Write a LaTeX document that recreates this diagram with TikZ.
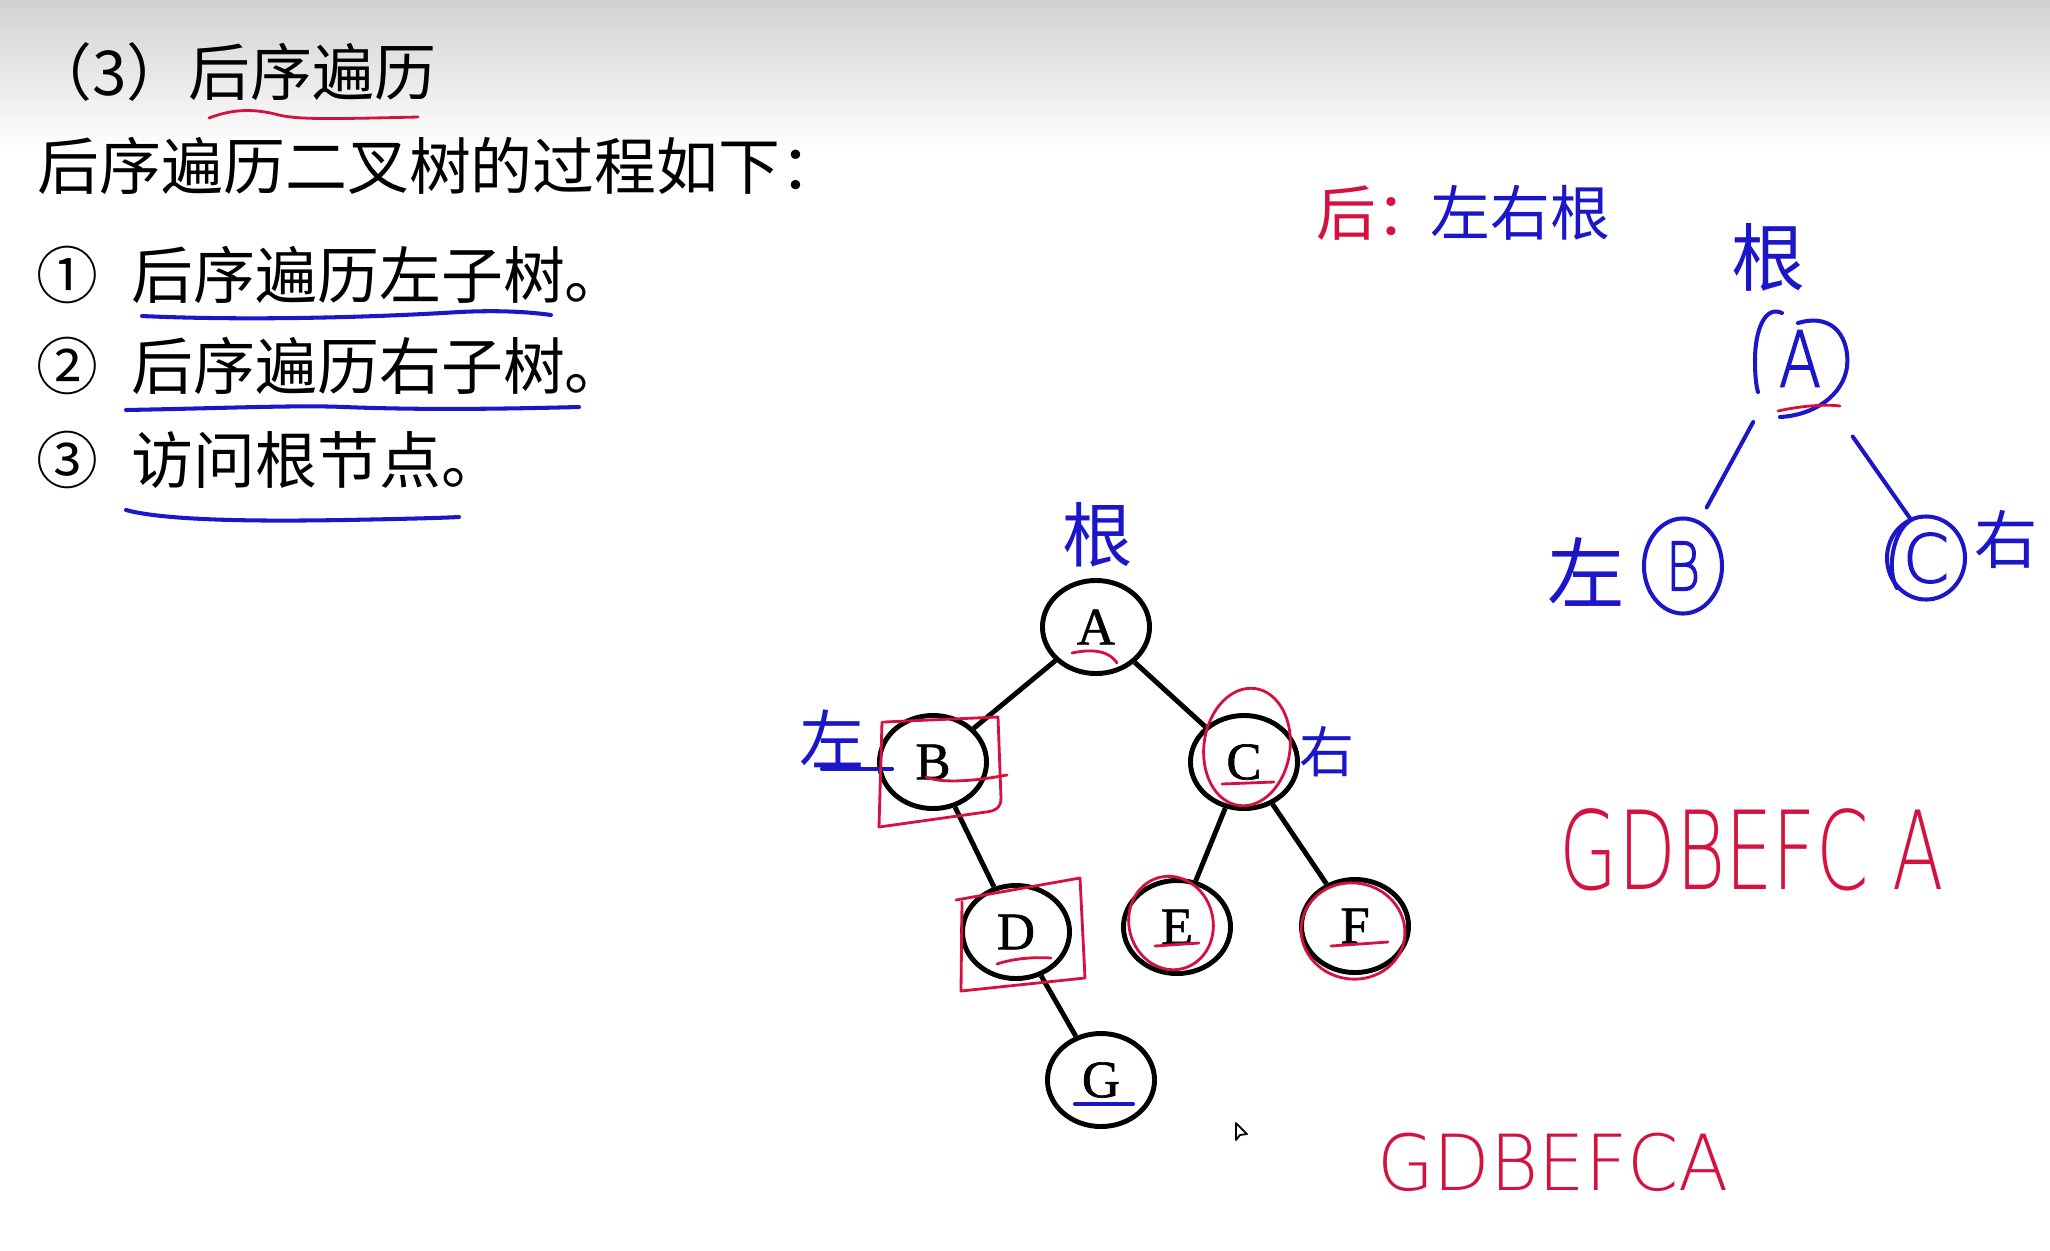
\documentclass[tikz,border=0pt]{standalone}
\usepackage{fontspec}
\setmainfont{Liberation Serif}
\newfontfamily\cjk{Noto Sans CJK SC}
\newfontfamily\treefont{Liberation Serif}[FakeBold=1.2]
\newfontfamily\hand{DejaVu Sans ExtraLight}
\newfontfamily\penhand{DejaVu Sans ExtraLight}[FakeBold=2]
\usetikzlibrary{shapes.geometric}
\definecolor{inkred}{HTML}{D3123F}
\definecolor{inkblue}{HTML}{1C16C9}

\begin{document}
\begin{tikzpicture}[x=0.01cm, y=-0.01cm,
  treenode/.style={ellipse, draw=black, line width=1.4pt, minimum width=1.07cm,
    minimum height=0.93cm, inner sep=0pt, font=\treefont\fontsize{15pt}{17pt}\selectfont},
  treeedge/.style={line width=1.4pt},
  redpen/.style={draw=inkred, line width=0.8pt, line cap=round, line join=round},
  bluepen/.style={draw=inkblue, line width=1.15pt, line cap=round, line join=round},
  body/.style={font=\cjk\fontsize{17.6pt}{20pt}\selectfont, inner sep=0pt, anchor=west},
  bluehand/.style={text=inkblue, inner sep=0pt},
  redhand/.style={text=inkred, inner sep=0pt},
  handnode/.style={ellipse, inner sep=0pt, text=inkblue}
]
\useasboundingbox (0,0) rectangle (2050,1250);
\fill[white] (0,0) rectangle (2050,1250);
\shade[top color=black!18, bottom color=white] (0,0) rectangle (2050,150);

% ---------- printed text ----------
\node[body] (title) at (30,72) {（3）后序遍历};
\node[body] (intro) at (37,166) {后序遍历二叉树的过程如下：};
\node[body] (n1) at (36,275) {①};
\node[body] (s1) at (131,275) {后序遍历左子树。};
\node[body] (n2) at (36,366) {②};
\node[body] (s2) at (131,366) {后序遍历右子树。};
\node[body] (n3) at (36,460) {③};
\node[body] (s3) at (131,460) {访问根节点。};

% underlines
\draw[redpen] (209,118) .. controls (230,110) and (250,108) .. (275,114)
  .. controls (295,120) and (330,119) .. (418,117);
\draw[bluepen] (142,316) .. controls (250,321) and (380,317) .. (459,312)
  .. controls (500,310) and (530,312) .. (551,315);
\draw[bluepen] (126,410) .. controls (230,408) and (300,405) .. (344,407)
  .. controls (420,410) and (500,409) .. (579,407);
\draw[bluepen] (126,510) .. controls (170,522) and (280,521) .. (344,520)
  .. controls (400,519) and (440,518) .. (459,517);

% ---------- binary tree ----------
\node[treenode] (A) at (1096,627) {A};
\node[treenode] (B) at (933,762) {B};
\node[treenode] (C) at (1244,762) {C};
\node[treenode] (D) at (1016,932) {D};
\node[treenode] (E) at (1177,927) {E};
\node[treenode] (F) at (1355,926) {F};
\node[treenode] (G) at (1101,1080) {G};
\draw[treeedge] (A) -- (B);
\draw[treeedge] (A) -- (C);
\draw[treeedge] (B) -- (D);
\draw[treeedge] (C) -- (E);
\draw[treeedge] (C) -- (F);
\draw[treeedge] (D) -- (G);

% handwritten marks on the tree
\node[bluehand, font=\cjk\fontsize{20pt}{22pt}\selectfont] (genA) at (1098,535) {根};
\node[bluehand, font=\cjk\fontsize{18.5pt}{20pt}\selectfont] (zuoB) at (832,739) {左};
\node[bluehand, font=\cjk\fontsize{15.6pt}{18pt}\selectfont] (youC) at (1327,752) {右};
\draw[bluepen] ([xshift=-0.1cm]zuoB.south) -- ([xshift=0.15cm]zuoB.south -| B.west);

\draw[redpen] (1072,653) .. controls (1095,648) and (1110,652) .. (1117,663);
\draw[redpen] (884,722) -- (998,717) -- (1001,798) .. controls (1001,808) and (995,811) .. (986,812)
  -- (879,827) -- (882,722);
\draw[redpen] (926,777) .. controls (940,783) and (970,782) .. (1007,775);
\draw[redpen, rotate around={-8:(1247,747)}] (1247,747) ellipse [x radius=0.43cm, y radius=0.59cm];
\draw[redpen] (1222,784) -- (1274,782);
\draw[redpen] (956,900) -- (1080,878) -- (1085,978) -- (961,991) -- (962,902);
\draw[redpen] (997,964) .. controls (1015,958) and (1035,957) .. (1051,958);
\draw[redpen, rotate around={15:(1171,923)}] (1171,923) ellipse [x radius=0.42cm, y radius=0.47cm];
\draw[redpen] (1155,946) -- (1199,943);
\draw[redpen, rotate around={-10:(1353,931)}] (1353,931) ellipse [x radius=0.52cm, y radius=0.48cm];
\draw[redpen] (1331,946) -- (1388,942);
\draw[bluepen] (1075,1104) -- (1133,1104);

% mouse pointer
\draw[black, fill=white, line width=0.5pt, line join=round]
  (1236,1123) -- (1236,1140) -- (1240,1135) -- (1247,1134) -- cycle;

% ---------- notes on the right ----------
\node[redhand, anchor=west, font=\cjk\fontsize{17pt}{19pt}\selectfont] (hou) at (1316,213) {后：};
\node[bluehand, anchor=west, font=\cjk\fontsize{17pt}{19pt}\selectfont] (order) at (1430,213) {左右根};

\node[bluehand, font=\cjk\fontsize{21pt}{23pt}\selectfont] (genS) at (1768,257) {根};
\node[handnode, minimum width=0.96cm, minimum height=1.04cm,
  font=\penhand\fontsize{22pt}{24pt}\selectfont] (sA) at (1800,366) {\raisebox{0.15cm}{\scalebox{0.8}[1]{A}}};
\node[handnode, draw=inkblue, line width=1.15pt, minimum width=0.78cm, minimum height=0.95cm,
  font=\penhand\fontsize{19pt}{21pt}\selectfont] (sB) at (1683,566) {\scalebox{0.8}[1]{B}};
\node[handnode, draw=inkblue, line width=1.15pt, minimum width=0.78cm, minimum height=0.83cm,
  font=\penhand\fontsize{19pt}{21pt}\selectfont] (sC) at (1926,558) {C};
\node[bluehand, font=\cjk\fontsize{22pt}{24pt}\selectfont] (zuoS) at (1586,572) {左};
\node[bluehand, font=\cjk\fontsize{18pt}{20pt}\selectfont] (youS) at (2006,539) {右};

% hand-drawn loop around the small root
\draw[bluepen] (1798,323) .. controls (1835,312) and (1850,340) .. (1847,367)
  .. controls (1843,395) and (1815,415) .. (1780,417);
\draw[bluepen] (1782,313) .. controls (1765,305) and (1755,330) .. (1755,360)
  .. controls (1755,375) and (1756,385) .. (1758,392);
\draw[bluepen] (1913,519) .. controls (1893,528) and (1886,570) .. (1897,588);
\draw[redpen] (1778,411) .. controls (1800,406) and (1825,404) .. (1840,406);

\draw[bluepen, shorten <=0.23cm, shorten >=0.15cm] (sA.225) -- (sB.70);
\draw[bluepen, shorten <=0.37cm] (sA.308) -- (sC.112);

% written results
\node[redhand, font=\hand\fontsize{31pt}{33pt}\selectfont] (res1) at (1752,850)
  {\scalebox{0.69}[1]{GDBEFC A}};
\node[redhand, font=\hand\fontsize{22pt}{24pt}\selectfont] (res2) at (1553,1162)
  {\scalebox{0.95}[1]{GDBEFCA}};
\end{tikzpicture}
\end{document}
